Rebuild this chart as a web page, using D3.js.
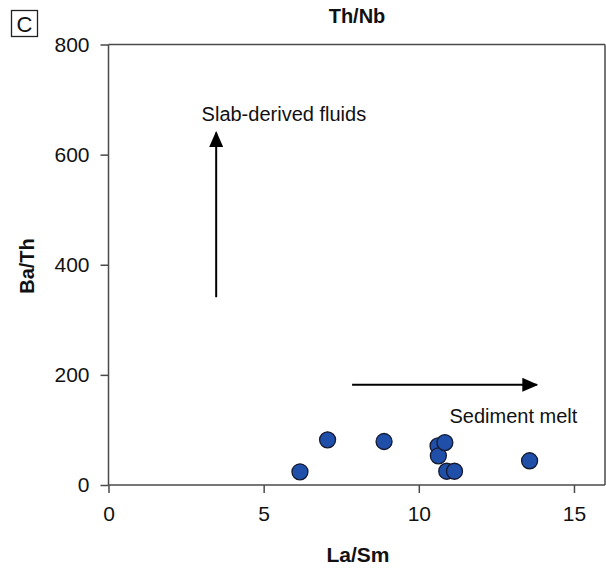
<!DOCTYPE html>
<html><head><meta charset="utf-8">
<script src="https://cdn.jsdelivr.net/npm/d3@7"></script>
<style>body{margin:0;background:#fff;}svg{display:block;font-family:"Liberation Sans",Arial,sans-serif;}</style>
</head><body>
<svg id="c" width="606" height="571"></svg>
<script>
const laSm = [6.17, 7.06, 8.88, 10.62, 10.63, 10.84, 10.90, 11.15, 13.57];
const baTh = [24, 82, 79, 71, 53, 77, 25, 25, 44];
const xTicks = [0, 5, 10, 15];
const yTicks = [0, 200, 400, 600, 800];
const title = "Th/Nb";
const panel = "C";
const xLabel = "La/Sm";
const yLabel = "Ba/Th";
const annotations = [
  {text: "Slab-derived fluids", x: 3.0, y: 661},
  {text: "Sediment melt", x: 10.99, y: 112}
];
const arrows = [
  {x1: 3.47, y1: 341, x2: 3.47, y2: 640},
  {x1: 7.85, y1: 182, x2: 13.8, y2: 182}
];

const svg = d3.select("#c");
const L = 108.5, R = 605, T = 44.5, B = 485;
const x = d3.scaleLinear().domain([0, 16]).range([L, R]);
const y = d3.scaleLinear().domain([0, 800]).range([B, T]);
const axisCol = "#4a4a4a";

svg.append("defs").append("marker").attr("id","ah").attr("viewBox","0 0 10 10")
  .attr("refX",9).attr("refY",5).attr("markerWidth",16).attr("markerHeight",14)
  .attr("markerUnits","userSpaceOnUse").attr("orient","auto")
  .attr("preserveAspectRatio","none")
  .append("path").attr("d","M0,0 L10,5 L0,10 Z").attr("fill","#000");

// frame
svg.append("line").attr("x1",L).attr("x2",R).attr("y1",T).attr("y2",T).attr("stroke",axisCol).attr("stroke-width",1.5);
svg.append("line").attr("x1",R).attr("x2",R).attr("y1",T).attr("y2",B).attr("stroke",axisCol).attr("stroke-width",1.5);

const gx = svg.append("g").attr("transform",`translate(0,${B})`)
  .call(d3.axisBottom(x).tickValues(xTicks).tickSize(8).tickPadding(13).tickFormat(d3.format("d")));
const gy = svg.append("g").attr("transform",`translate(${L},0)`)
  .call(d3.axisLeft(y).tickValues(yTicks).tickSize(8).tickPadding(11).tickFormat(d3.format("d")));
[gx, gy].forEach(g => {
  g.select(".domain").remove();
  g.selectAll("line").attr("stroke",axisCol).attr("stroke-width",1.5);
  g.selectAll("text").attr("font-size",21).attr("fill","#111").attr("font-family","Liberation Sans, Arial, sans-serif");
});
svg.append("line").attr("x1",L).attr("x2",R).attr("y1",B).attr("y2",B).attr("stroke",axisCol).attr("stroke-width",1.5);
svg.append("line").attr("x1",L).attr("x2",L).attr("y1",T).attr("y2",B).attr("stroke",axisCol).attr("stroke-width",1.5);

// arrows
arrows.forEach(a => {
  svg.append("line").attr("x1",x(a.x1)).attr("y1",y(a.y1)).attr("x2",x(a.x2)).attr("y2",y(a.y2))
    .attr("stroke","#000").attr("stroke-width",2).attr("marker-end","url(#ah)");
});
annotations.forEach(a => {
  svg.append("text").attr("x",x(a.x)).attr("y",y(a.y)).text(a.text)
    .attr("font-size",20).attr("fill","#111");
});

// points
svg.append("g").selectAll("circle").data(laSm.map((v,i)=>[v,baTh[i]])).join("circle")
  .attr("cx",d=>x(d[0])).attr("cy",d=>y(d[1])).attr("r",8)
  .attr("fill","#1f4fa8").attr("stroke","#151a30").attr("stroke-width",1.3);

// labels
svg.append("text").attr("x",357).attr("y",23).attr("text-anchor","middle").attr("font-size",20).attr("font-weight","bold").attr("fill","#111").text(title);
svg.append("text").attr("x",358).attr("y",562).attr("text-anchor","middle").attr("font-size",21).attr("font-weight","bold").attr("fill","#111").text(xLabel);
svg.append("text").attr("transform","translate(34,266) rotate(-90)").attr("text-anchor","middle").attr("font-size",20).attr("font-weight","bold").attr("fill","#111").text(yLabel);
svg.append("rect").attr("x",11.5).attr("y",10.5).attr("width",26).attr("height",26).attr("fill","none").attr("stroke","#222").attr("stroke-width",1.3);
svg.append("text").attr("x",24.5).attr("y",32).attr("text-anchor","middle").attr("font-size",22).attr("fill","#111").text(panel);
</script>
</body></html>
